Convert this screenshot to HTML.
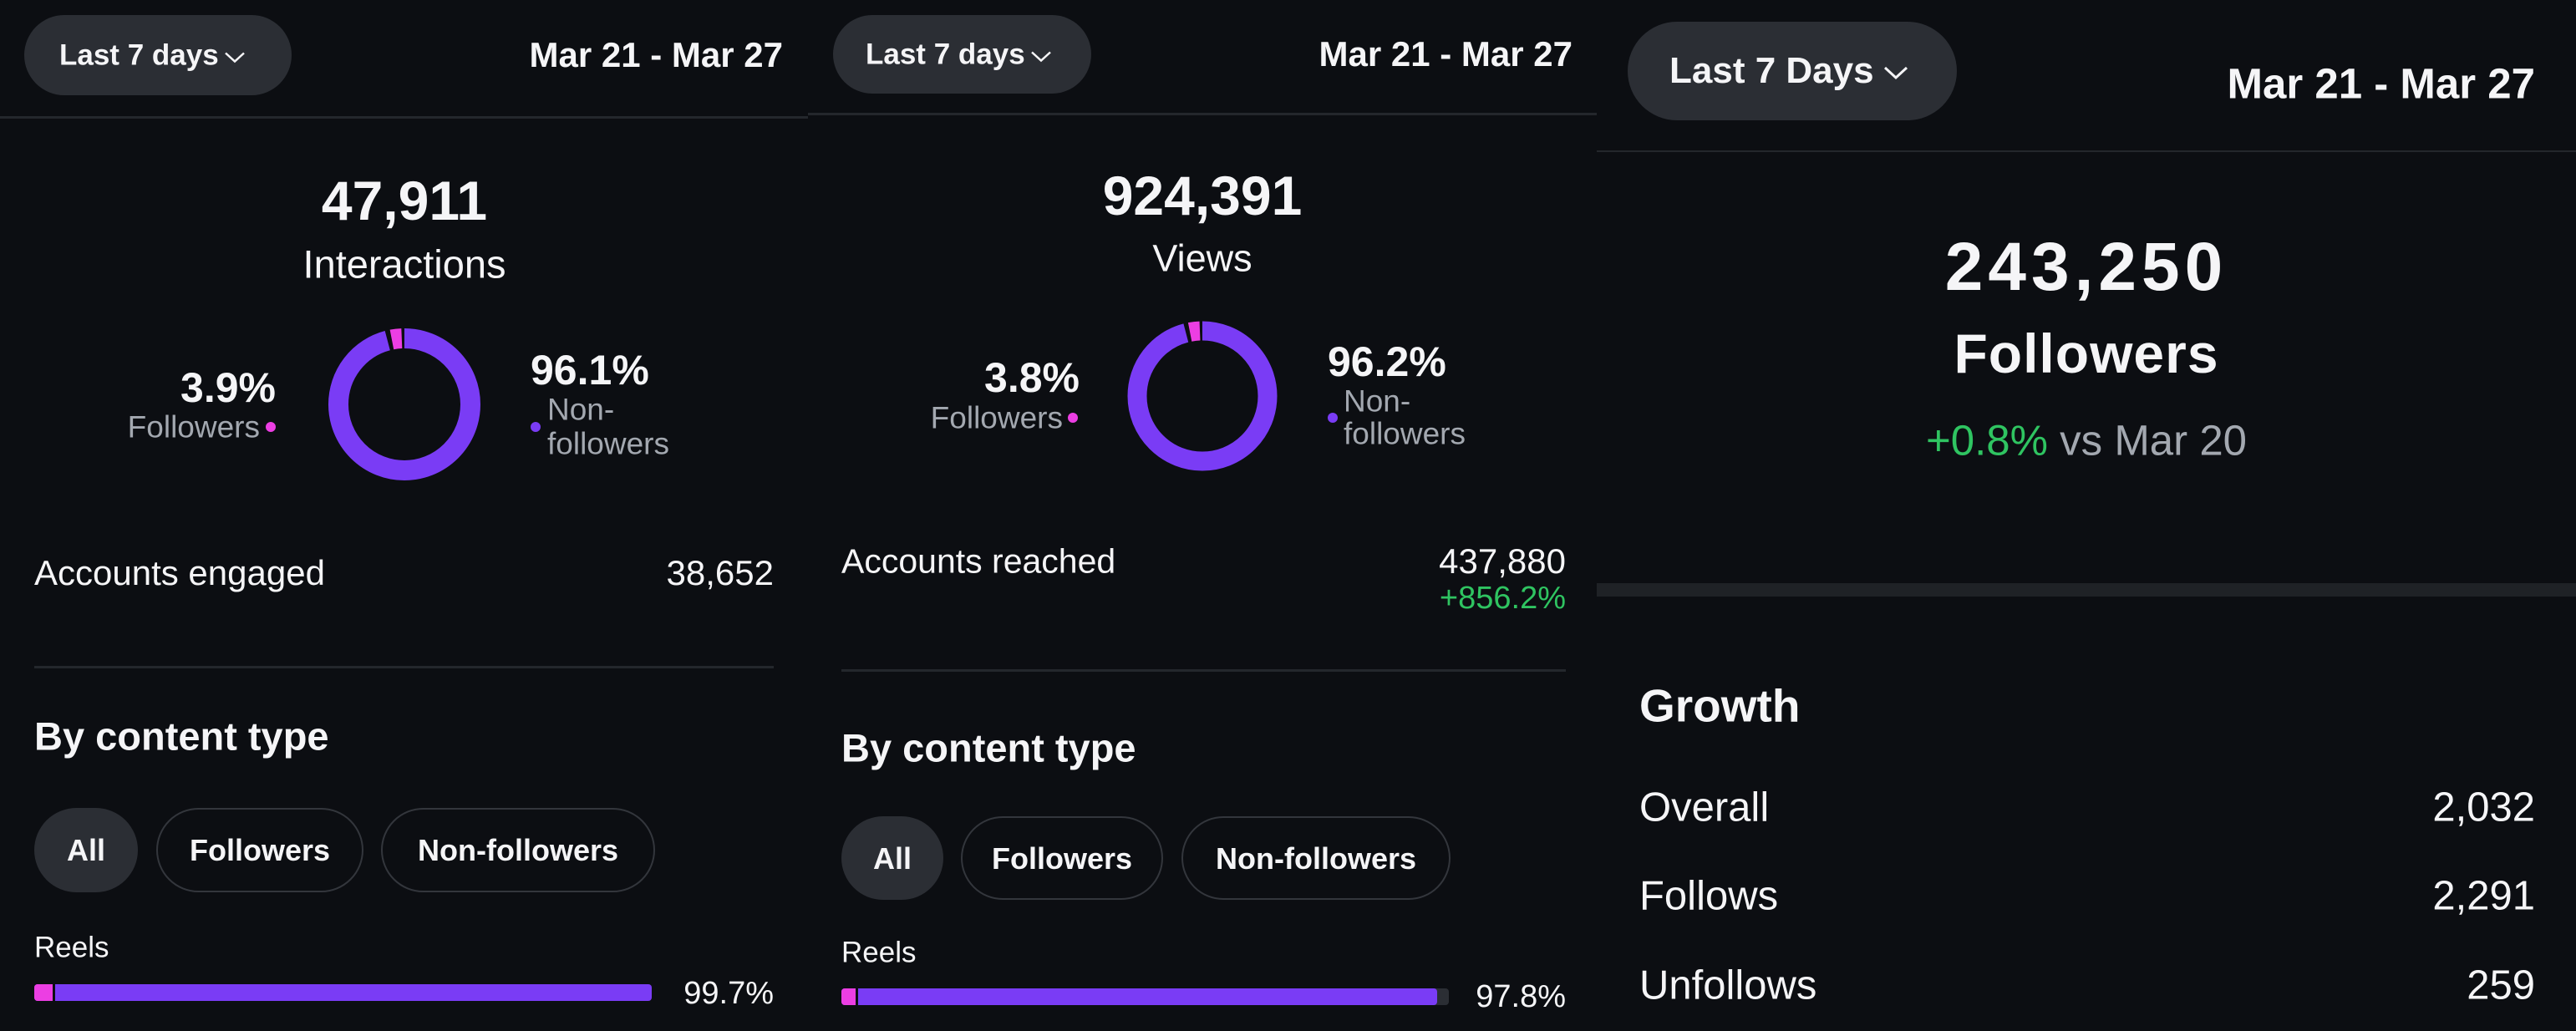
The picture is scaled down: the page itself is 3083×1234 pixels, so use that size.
<!DOCTYPE html>
<html><head><meta charset="utf-8"><style>
*{margin:0;padding:0;box-sizing:border-box}
body{width:3083px;height:1234px;background:#0c0e12;position:relative;overflow:hidden;font-family:"Liberation Sans",sans-serif;color:#f5f5f7}
.t{position:absolute;white-space:nowrap;line-height:1;transform:translateY(-50%)}
.c{transform:translate(-50%,-50%)}
.b{font-weight:bold}
.g{color:#a3a8b0}
.pill{position:absolute;border-radius:60px;background:#2b2e34}
.opill{position:absolute;border-radius:60px;border:2px solid #33363c}
.hr{position:absolute;height:3px;background:#24272c}
.chev{display:inline-block;vertical-align:middle;margin-left:6px}
</style></head><body>
<!-- Panel 1 -->
<div class="pill" style="left:29px;top:18px;width:320px;height:96px"></div>
<div class="t b" style="left:71px;top:66px;font-size:35px">Last 7 days<svg class="chev" width="26" height="16" viewBox="0 0 26 16"><polyline points="2,3 13,13 24,3" fill="none" stroke="#f5f5f7" stroke-width="2.5"/></svg></div>
<div class="t b" style="right:2146px;top:66px;font-size:42px">Mar 21 - Mar 27</div>
<div class="hr" style="left:0;top:139px;width:967px"></div>
<div class="t b c" style="left:484px;top:240px;font-size:66px">47,911</div>
<div class="t c" style="left:484px;top:316px;font-size:47px">Interactions</div>
<svg style="position:absolute;left:0;top:0" width="3083" height="1234">
<circle cx="484" cy="484" r="79" fill="none" stroke="#7a3cf5" stroke-width="24" stroke-dasharray="475.7 600" transform="rotate(-90 484 484)"/>
<circle cx="484" cy="484" r="79" fill="none" stroke="#ec3ee3" stroke-width="24" stroke-dasharray="12 600" transform="rotate(-101 484 484)"/>
<circle cx="1439" cy="474" r="78" fill="none" stroke="#7a3cf5" stroke-width="23" stroke-dasharray="470 600" transform="rotate(-90 1439 474)"/>
<circle cx="1439" cy="474" r="78" fill="none" stroke="#ec3ee3" stroke-width="23" stroke-dasharray="12 600" transform="rotate(-101 1439 474)"/>
<circle cx="324" cy="511" r="6" fill="#ec3ee3"/>
<circle cx="641" cy="511" r="6" fill="#7a3cf5"/>
<circle cx="1284" cy="500" r="6" fill="#ec3ee3"/>
<circle cx="1595" cy="500" r="6" fill="#7a3cf5"/>
</svg>
<div class="t b" style="right:2753px;top:464px;font-size:50px">3.9%</div>
<div class="t g" style="right:2772px;top:511px;font-size:37px">Followers</div>
<div class="t b" style="left:635px;top:443px;font-size:50px">96.1%</div>
<div class="t g" style="left:655px;top:490px;font-size:37px">Non-</div>
<div class="t g" style="left:655px;top:531px;font-size:37px">followers</div>
<div class="t" style="left:41px;top:686px;font-size:42px">Accounts engaged</div>
<div class="t" style="right:2157px;top:686px;font-size:42px">38,652</div>
<div class="hr" style="left:41px;top:797px;width:885px"></div>
<div class="t b" style="left:41px;top:881px;font-size:47px">By content type</div>
<div class="pill" style="left:41px;top:967px;width:124px;height:101px"></div>
<div class="opill" style="left:187px;top:967px;width:248px;height:101px"></div>
<div class="opill" style="left:456px;top:967px;width:328px;height:101px"></div>
<div class="t b c" style="left:103px;top:1018px;font-size:36px">All</div>
<div class="t b c" style="left:311px;top:1018px;font-size:36px">Followers</div>
<div class="t b c" style="left:620px;top:1018px;font-size:36px">Non-followers</div>
<div class="t" style="left:41px;top:1134px;font-size:35px">Reels</div>
<div style="position:absolute;left:41px;top:1178px;width:739px;height:20px;border-radius:4px;background:#7a3cf5"></div>
<div style="position:absolute;left:41px;top:1178px;width:25px;height:20px;border-radius:4px 0 0 4px;background:#ec3ee3;border-right:3px solid #0c0e12"></div>
<div class="t" style="right:2157px;top:1189px;font-size:38px">99.7%</div>

<!-- Panel 2 -->
<div class="pill" style="left:997px;top:18px;width:309px;height:94px"></div>
<div class="t b" style="left:1036px;top:65px;font-size:35px">Last 7 days<svg class="chev" width="26" height="16" viewBox="0 0 26 16"><polyline points="2,3 13,13 24,3" fill="none" stroke="#f5f5f7" stroke-width="2.5"/></svg></div>
<div class="t b" style="right:1201px;top:65px;font-size:42px">Mar 21 - Mar 27</div>
<div class="hr" style="left:967px;top:135px;width:944px"></div>
<div class="t b c" style="left:1439px;top:234px;font-size:66px">924,391</div>
<div class="t c" style="left:1439px;top:309px;font-size:45px">Views</div>
<div class="t b" style="right:1791px;top:452px;font-size:50px">3.8%</div>
<div class="t g" style="right:1811px;top:500px;font-size:37px">Followers</div>
<div class="t b" style="left:1589px;top:433px;font-size:50px">96.2%</div>
<div class="t g" style="left:1608px;top:480px;font-size:37px">Non-</div>
<div class="t g" style="left:1608px;top:519px;font-size:37px">followers</div>
<div class="t" style="left:1007px;top:672px;font-size:41px">Accounts reached</div>
<div class="t" style="right:1209px;top:672px;font-size:42px">437,880</div>
<div class="t" style="right:1209px;top:716px;font-size:38px;color:#2fc461">+856.2%</div>
<div class="hr" style="left:1007px;top:801px;width:867px"></div>
<div class="t b" style="left:1007px;top:895px;font-size:47px">By content type</div>
<div class="pill" style="left:1007px;top:977px;width:122px;height:100px"></div>
<div class="opill" style="left:1150px;top:977px;width:242px;height:100px"></div>
<div class="opill" style="left:1414px;top:977px;width:322px;height:100px"></div>
<div class="t b c" style="left:1068px;top:1028px;font-size:36px">All</div>
<div class="t b c" style="left:1271px;top:1028px;font-size:36px">Followers</div>
<div class="t b c" style="left:1575px;top:1028px;font-size:36px">Non-followers</div>
<div class="t" style="left:1007px;top:1140px;font-size:35px">Reels</div>
<div style="position:absolute;left:1007px;top:1183px;width:727px;height:20px;border-radius:4px;background:#2b2e34"></div>
<div style="position:absolute;left:1007px;top:1183px;width:713px;height:20px;border-radius:4px;background:#7a3cf5"></div>
<div style="position:absolute;left:1007px;top:1183px;width:20px;height:20px;border-radius:4px 0 0 4px;background:#ec3ee3;border-right:3px solid #0c0e12"></div>
<div class="t" style="right:1209px;top:1193px;font-size:38px">97.8%</div>

<!-- Panel 3 -->
<div class="pill" style="left:1948px;top:26px;width:394px;height:118px"></div>
<div class="t b" style="left:1998px;top:85px;font-size:44px">Last 7 Days<svg class="chev" width="32" height="20" viewBox="0 0 32 20" style="margin-left:10px"><polyline points="3,4 16,16 29,4" fill="none" stroke="#f5f5f7" stroke-width="3"/></svg></div>
<div class="t b" style="right:49px;top:100px;font-size:51px">Mar 21 - Mar 27</div>
<div class="hr" style="left:1911px;top:180px;width:1172px;height:2px"></div>
<div class="t b c" style="left:2497px;top:320px;font-size:82px;letter-spacing:6px">243,250</div>
<div class="t b c" style="left:2497px;top:423px;font-size:66px;letter-spacing:1px">Followers</div>
<div class="t c" style="left:2497px;top:527px;font-size:51px"><span style="color:#2fc461">+0.8%</span> <span class="g">vs Mar 20</span></div>
<div style="position:absolute;left:1911px;top:698px;width:1172px;height:16px;background:#1f2226"></div>
<div class="t b" style="left:1962px;top:845px;font-size:55px">Growth</div>
<div class="t" style="left:1962px;top:967px;font-size:49px">Overall</div>
<div class="t" style="right:49px;top:967px;font-size:49px">2,032</div>
<div class="t" style="left:1962px;top:1073px;font-size:49px">Follows</div>
<div class="t" style="right:49px;top:1073px;font-size:49px">2,291</div>
<div class="t" style="left:1962px;top:1180px;font-size:49px">Unfollows</div>
<div class="t" style="right:49px;top:1180px;font-size:49px">259</div>
</body></html>
